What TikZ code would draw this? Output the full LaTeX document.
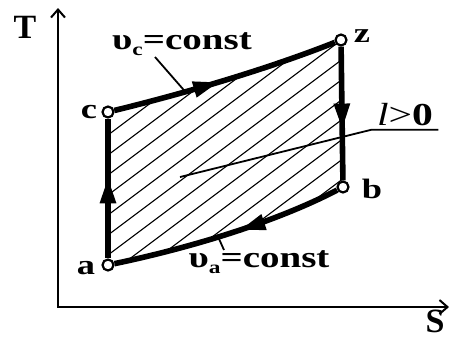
\documentclass[tikz,border=0pt]{standalone}
\usepackage{graphicx}
\usepackage{fontspec}
\setmainfont{Liberation Serif}
\usetikzlibrary{arrows.meta, decorations.markings}

% wide letters as in the scanned figure
\newcommand{\wide}[1]{\scalebox{1.3}[1]{#1}}
\newcommand{\lsub}[1]{\raisebox{-0.45ex}{\fontsize{9}{9}\selectfont #1}}

\begin{document}
\begin{tikzpicture}[
    x=0.5pt, y=-0.5pt,
    cycleline/.style={line width=2.8pt},
    axis/.style={line width=1pt, {Straight Barb[length=4pt,width=7pt]}-{Straight Barb[length=4pt,width=7pt]}},
    vertex/.style={circle, draw, line width=1.1pt, fill=white, inner sep=0pt, minimum size=5.5pt},
    hatch/.style={line width=0.55pt},
    leader/.style={line width=0.9pt},
    lbl/.style={font=\fontsize{14}{16}\selectfont\bfseries, inner sep=0pt},
    midarrow/.style={postaction={decorate, decoration={markings,
        mark=at position #1 with {\arrow{Triangle[length=13pt,width=7.5pt]}}}}}
]
    \useasboundingbox (0,0) rectangle (450,339);

    % corner points of the cycle
    \coordinate (pa) at (108,265);
    \coordinate (pc) at (108,112);
    \coordinate (pz) at (341,40);
    \coordinate (pb) at (343,187);

    % axes
    \coordinate (O) at (58,307);
    \coordinate (Ttop) at (58,8);
    \coordinate (Send) at (449,307);
    \draw[axis] (Ttop) -- (O) -- (Send);
    \node[lbl, font=\fontsize{17}{19}\selectfont\bfseries] (tlab) at (25,27) {T};
    \node[lbl, font=\fontsize{17}{19}\selectfont\bfseries] (slab) at (435,321) {S};

    % hatched area
    \begin{scope}
        \clip (pa) -- (pc) .. controls (190,92) and (270,68) .. (pz)
            -- (pb) .. controls (270,225) and (180,250) .. (pa) -- cycle;
        \foreach \k in {-20,...,20}
            \draw[hatch] (-192,360+20*\k) -- (508,-165+20*\k);
    \end{scope}

    \node[vertex] (a) at (pa) {};
    \node[vertex] (c) at (pc) {};
    \node[vertex] (z) at (pz) {};
    \node[vertex] (b) at (pb) {};

    \node[lbl] (alab) at (86,268) {\wide{a}};
    \node[lbl] (clab) at (89,112) {\wide{c}};
    \node[lbl] (zlab) at (362,36) {\wide{z}};
    \node[lbl] (blab) at (372,189) {\wide{b}};

    % the cycle
    \draw[cycleline, midarrow=0.58] (a) -- (c);
    \draw[cycleline, midarrow=0.47] (c) .. controls (190,92) and (270,68) .. (z)
        coordinate[pos=0.31] (vcfoot);
    \draw[cycleline, midarrow=0.62] (z) -- (b);
    \draw[cycleline, midarrow=0.45] (b) .. controls (270,225) and (180,250) .. (a)
        coordinate[pos=0.53] (vafoot);

    % labels with leaders
    \node[lbl, font=\fontsize{15}{17}\selectfont\bfseries] (vclab) at (182,44) {\wide{υ\lsub{c}=const}};
    \coordinate (vctop) at (155,57);
    \draw[leader] (vcfoot) -- (vctop);

    \node[lbl, font=\fontsize{15}{17}\selectfont\bfseries] (valab) at (259,262) {\wide{υ\lsub{a}=const}};
    \coordinate (vatop) at (224,250);
    \draw[leader] (vafoot) -- (vatop);

    \node[lbl, font=\fontsize{16}{18}\selectfont, inner xsep=2.5pt, inner ysep=1.5pt] (lpos) at (405,115)
        {\wide{\textit{l}>\textbf{0}}};
    \coordinate (lin) at (180,177);
    \draw[leader] (lin) -- (lpos.south west) -- (lpos.south east);
\end{tikzpicture}
\end{document}
